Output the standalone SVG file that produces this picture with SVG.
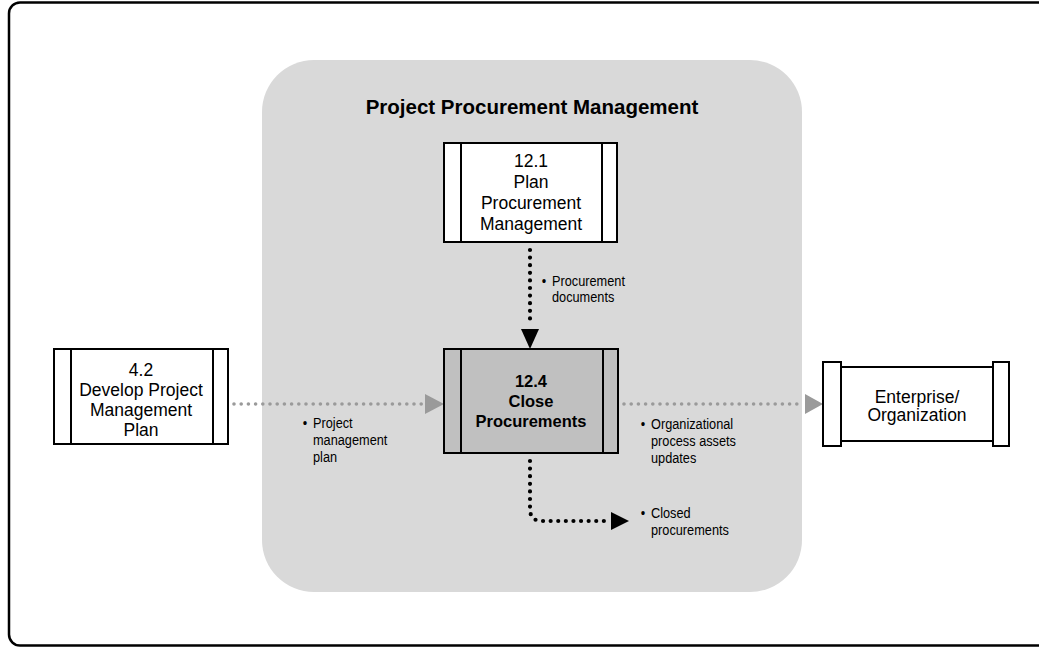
<svg xmlns="http://www.w3.org/2000/svg" width="1039" height="648" viewBox="0 0 1039 648">
<style>
.box{fill:#fff;stroke:#000;stroke-width:2}
.boxg{fill:#c0c0c0;stroke:#000;stroke-width:2}
.t{font-family:"Liberation Sans",Arial,sans-serif;font-size:17.5px;fill:#000;text-anchor:middle}
.tb{font-family:"Liberation Sans",Arial,sans-serif;font-size:16.5px;font-weight:bold;fill:#000;text-anchor:middle}
.lbl{font-family:"Liberation Sans",Arial,sans-serif;font-size:15px;fill:#000}
.title{font-family:"Liberation Sans",Arial,sans-serif;font-size:20.5px;font-weight:bold;fill:#000;text-anchor:middle}
.dk{fill:none;stroke:#000;stroke-width:4.2;stroke-linecap:round;stroke-dasharray:0 7.6}
.dg{fill:none;stroke:#9a9a9a;stroke-width:3.6;stroke-linecap:round;stroke-dasharray:0 7.2}
</style>
<rect x="0" y="0" width="1039" height="648" fill="#fff"/>
<rect x="9" y="2.5" width="1070" height="643" rx="11" fill="none" stroke="#000" stroke-width="2.5"/>
<g id="group-procurement">
<rect x="262" y="60" width="540" height="532" rx="52" fill="#d9d9d9"/>
<text class="title" x="532" y="114">Project Procurement Management</text>
</g>
<g id="connectors">
<path class="dk" d="M530,250 V322"/>
<polygon points="521,329 539,329 530,349" fill="#000"/>
<path class="dk" d="M530,461 V509 Q530,521 542,521 H607"/>
<polygon points="611,512 611,530 629,521" fill="#000"/>
<path class="dg" d="M234,404 H422"/>
<polygon points="425,394 425,414 444,404" fill="#9a9a9a"/>
<path class="dg" d="M624,404 H802"/>
<polygon points="805,394 805,414 823,404" fill="#9a9a9a"/>
</g>
<g id="label-procurement-documents" transform="translate(552,0) scale(0.85,1)">
<text class="lbl" x="-12" y="286">•</text>
<text class="lbl" x="0" y="286">Procurement</text>
<text class="lbl" x="0" y="302">documents</text>
</g>
<g id="label-pm-plan" transform="translate(313,0) scale(0.85,1)">
<text class="lbl" x="-12" y="428">•</text>
<text class="lbl" x="0" y="428">Project</text>
<text class="lbl" x="0" y="445">management</text>
<text class="lbl" x="0" y="462">plan</text>
</g>
<g id="label-opa" transform="translate(651,0) scale(0.85,1)">
<text class="lbl" x="-12" y="429">•</text>
<text class="lbl" x="0" y="429">Organizational</text>
<text class="lbl" x="0" y="446">process assets</text>
<text class="lbl" x="0" y="463">updates</text>
</g>
<g id="label-closed" transform="translate(651,0) scale(0.85,1)">
<text class="lbl" x="-12" y="518">•</text>
<text class="lbl" x="0" y="518">Closed</text>
<text class="lbl" x="0" y="535">procurements</text>
</g>
<g id="node-12-1">
<rect class="box" x="444" y="143" width="173" height="99"/>
<line x1="461" y1="143" x2="461" y2="242" stroke="#000" stroke-width="2"/>
<line x1="602" y1="143" x2="602" y2="242" stroke="#000" stroke-width="2"/>
<text class="t" x="531" y="167">12.1</text>
<text class="t" x="531" y="188">Plan</text>
<text class="t" x="531" y="209">Procurement</text>
<text class="t" x="531" y="230">Management</text>
</g>
<g id="node-12-4">
<rect class="boxg" x="444" y="349" width="174" height="104"/>
<line x1="461" y1="349" x2="461" y2="453" stroke="#000" stroke-width="2"/>
<line x1="603" y1="349" x2="603" y2="453" stroke="#000" stroke-width="2"/>
<text class="tb" x="531" y="387">12.4</text>
<text class="tb" x="531" y="407">Close</text>
<text class="tb" x="531" y="427">Procurements</text>
</g>
<g id="node-4-2">
<rect class="box" x="54" y="349" width="174" height="95"/>
<line x1="71" y1="349" x2="71" y2="444" stroke="#000" stroke-width="2"/>
<line x1="213" y1="349" x2="213" y2="444" stroke="#000" stroke-width="2"/>
<text class="t" x="141" y="376">4.2</text>
<text class="t" x="141" y="396">Develop Project</text>
<text class="t" x="141" y="416">Management</text>
<text class="t" x="141" y="436">Plan</text>
</g>
<g id="node-enterprise">
<rect class="box" x="823" y="362" width="18" height="84"/>
<rect class="box" x="993" y="362" width="16" height="84"/>
<rect class="box" x="841" y="367" width="152" height="74"/>
<text class="t" x="917" y="403">Enterprise/</text>
<text class="t" x="917" y="421">Organization</text>
</g>
</svg>
